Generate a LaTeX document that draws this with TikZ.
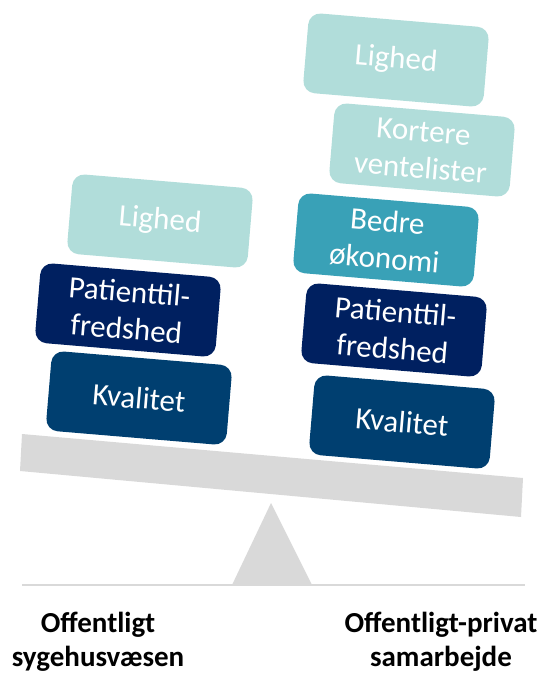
\documentclass[tikz,border=0pt]{standalone}
\usepackage{fontspec}
\setmainfont{Carlito}
\begin{document}
\begin{tikzpicture}[x=1pt,y=-1pt,
    blok/.style={rounded corners=12pt, minimum width=181pt, minimum height=80pt,
        inner sep=2pt, align=center, text=white, rotate=-4.8,
        font=\fontsize{31}{37}\selectfont},
    etiket/.style={align=center, font=\fontsize{29}{34}\selectfont\bfseries}]

    % 定义颜色
    \definecolor{lys}{RGB}{177, 221, 218}
    \definecolor{mellem}{RGB}{57, 161, 183}
    \definecolor{moerk}{RGB}{0, 32, 96}
    \definecolor{kval}{RGB}{0, 63, 112}
    \definecolor{graa}{RGB}{217, 217, 217}

    \useasboundingbox (0,0) rectangle (546,674);

    % 绘制地面和支点
    \draw[graa, line width=1.5pt] (22,585) -- (525,585);
    \fill[graa] (232,585) -- (271,503) -- (312,585) -- cycle;

    % 绘制横梁
    \fill[graa] (22,434) -- (523,478) -- (521,517) -- (20,471) -- cycle;

    % 左边的方块
    \node[blok, fill=kval] (kvalA) at (139,398) {Kvalitet};
    \node[blok, fill=moerk] (patA) at (128,310) {Patienttil-\\fredshed};
    \node[blok, fill=lys] (ligA) at (160,221) {Lighed};

    % 右边的方块
    \node[blok, fill=kval] (kvalB) at (402,422) {Kvalitet};
    \node[blok, fill=moerk] (patB) at (394,330) {Patienttil-\\fredshed};
    \node[blok, fill=mellem] (oekB) at (386,240) {Bedre\\økonomi};
    \node[blok, fill=lys] (ventB) at (422,150) {Kortere\\ventelister};
    \node[blok, fill=lys] (ligB) at (396,60) {Lighed};

    % 底部标签
    \node[etiket] (offA) at (98,642) {Offentligt\\sygehusvæsen};
    \node[etiket] (offB) at (441,642) {Offentligt-privat\\samarbejde};

\end{tikzpicture}
\end{document}
